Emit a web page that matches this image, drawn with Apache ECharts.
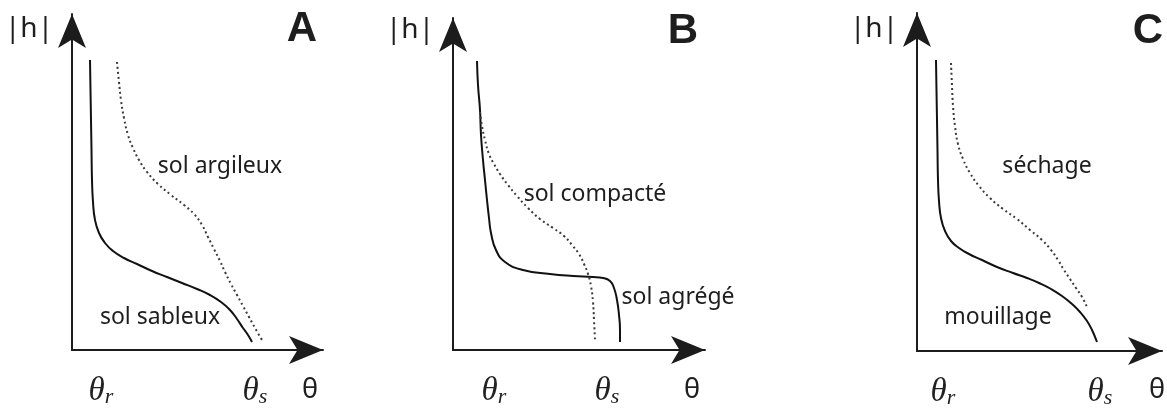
<!DOCTYPE html>
<html>
<head>
<meta charset="utf-8">
<script src="https://cdn.jsdelivr.net/npm/echarts@6/dist/echarts.min.js"></script>
<style>
html,body{margin:0;padding:0;background:#fff;}
#main{width:1167px;height:410px;}
</style>
</head>
<body>
<div id="main"></div>
<script>
// courbes de retention (unites = px depuis l'origine des axes)
var solSableux = [[18,290],[18.5,260],[19,230],[19.5,200],[20,170],[21,148],[23,130],[27,117],[33,107],[41,99],[52,92],[65,86],[80,79],[95,73],[110,67],[125,61],[138,55],[149,48],[158,40],[165,31],[171,22],[176,15],[180,8]];
var solArgileux = [[45,288],[47,268],[49,250],[52,232],[56,215],[61,202],[67,190],[75,178],[86,166],[99,155],[112,145],[122,136],[130,125],[136,113],[142,101],[148,89],[153,78],[159,66],[165,55],[171,44],[177,33],[183,22],[190,10]];

var solAgrege = [[24,289],[25,265],[27,240],[28,215],[30,190],[32,170],[34,150],[36,132],[38,117],[43,100],[52,88],[70,80],[97,76],[120,74],[140,73],[150,72],[157,69],[161,62],[164,50],[166,35],[167,20],[167,8]];
var solCompacte = [[27,238],[29,224],[32,210],[36,196],[41,186],[47,176],[55,165],[64,154],[75,142],[87,131],[100,122],[111,114],[119,105],[126,96],[131,86],[135,76],[138,64],[140,48],[141,30],[142,10]];

var mouillage = [[19,291],[19.5,260],[20,231],[20.5,200],[21,171],[22,150],[24,133],[28,120],[34,110],[42,103],[52,97],[65,91],[80,84],[96,78],[110,73],[122,68],[134,62],[145,55],[155,47],[163,39],[170,30],[175,21],[180,9]];
var sechage = [[34,288],[35,265],[36,245],[38,225],[41,207],[46,192],[53,178],[62,165],[73,153],[86,142],[100,132],[113,121],[125,111],[134,101],[141,91],[147,81],[153,72],[159,63],[165,54],[170,44]];

// positions de theta_r et theta_s sur chaque axe
var thetaTicks = [[29,183],[41,154],[26,183]];
var panelNames = ['A','B','C'];

// cadres des trois panneaux: origine et pointe des fleches (px)
var panels = [
    {ox:72, oy:350, xe:323, ye:14},
    {ox:453, oy:350, xe:705, ye:18},
    {ox:917, oy:351, xe:1162, ye:13}
];

var axisCol = '#1c1c1c';
var grids=[], xAxes=[], yAxes=[], series=[];
for(var i=0;i<3;i++)
{
    var p=panels[i];
    grids.push({left:p.ox, top:p.ye, width:p.xe-p.ox, height:p.oy-p.ye, outerBoundsMode:'none'});
    (function(ticks){
        xAxes.push({
            gridIndex:i, type:'value', min:0, max:p.xe-p.ox,
            splitLine:{show:false}, axisTick:{show:false},
            axisLine:{onZero:false, symbol:['none','arrow'], symbolSize:[21,34], lineStyle:{color:axisCol,width:2}},
            axisLabel:{
                customValues:ticks, margin:24,
                formatter:function(v){ return v==ticks[0] ? '{t|θ}{s|r}' : '{t|θ}{s|s}'; },
                rich:{
                    t:{fontFamily:'Liberation Serif', fontStyle:'italic', fontSize:33, color:'#222', lineHeight:34},
                    s:{fontFamily:'Liberation Serif', fontStyle:'italic', fontSize:22, color:'#222', lineHeight:12, verticalAlign:'bottom'}
                }
            }
        });
    })(thetaTicks[i]);
    yAxes.push({
        gridIndex:i, type:'value', min:0, max:p.oy-p.ye,
        splitLine:{show:false}, axisTick:{show:false}, axisLabel:{show:false},
        axisLine:{onZero:false, symbol:['none','arrow'], symbolSize:[21,34], lineStyle:{color:axisCol,width:2}}
    });
}

function courbe(data, idx, dotted)
{
    return {
        type:'line', xAxisIndex:idx, yAxisIndex:idx, data:data,
        smooth:0.5, showSymbol:false, silent:true,
        lineStyle:dotted ? {color:'#3a3a3a', width:2, type:[2,3]} : {color:'#111', width:2}
    };
}
series.push(courbe(solSableux,0,false));
series.push(courbe(solArgileux,0,true));
series.push(courbe(solAgrege,1,false));
series.push(courbe(solCompacte,1,true));
series.push(courbe(mouillage,2,false));
series.push(courbe(sechage,2,true));

// textes
var sans='"Noto Sans", sans-serif';
function txt(s,x,y,size,bold,family)
{
    return {type:'text', x:x, y:y, silent:true,
        style:{text:s, fill:'#1e1e1e', font:(bold?'bold ':'')+size+'px '+(family||sans), textAlign:'center', textVerticalAlign:'middle'}};
}
var labels=[
    txt('sol argileux',220,166,23), txt('sol sableux',160,317,23),
    txt('sol compacté',595,194,23), txt('sol agrégé',678,297,23),
    txt('séchage',1047,166,23), txt('mouillage',998,317,23)
];
var hPos=[[29,29],[410,30],[874,29]];
var thetaPos=[[310,390],[692,390],[1157,390]];
var letterPos=[[302,29],[683,31],[1148,31]];
for(var k=0;k<3;k++)
{
    labels.push(txt('|h|',hPos[k][0],hPos[k][1],28));
    labels.push(txt('θ',thetaPos[k][0],thetaPos[k][1],27));
    labels.push(txt(panelNames[k],letterPos[k][0],letterPos[k][1],42,true,'"Liberation Sans", Arial, sans-serif'));
}

var myChart = echarts.init(document.getElementById('main'));
myChart.setOption({
    backgroundColor:'#fff',
    animation:false,
    grid:grids, xAxis:xAxes, yAxis:yAxes,
    series:series,
    graphic:labels
});
</script>
</body>
</html>
